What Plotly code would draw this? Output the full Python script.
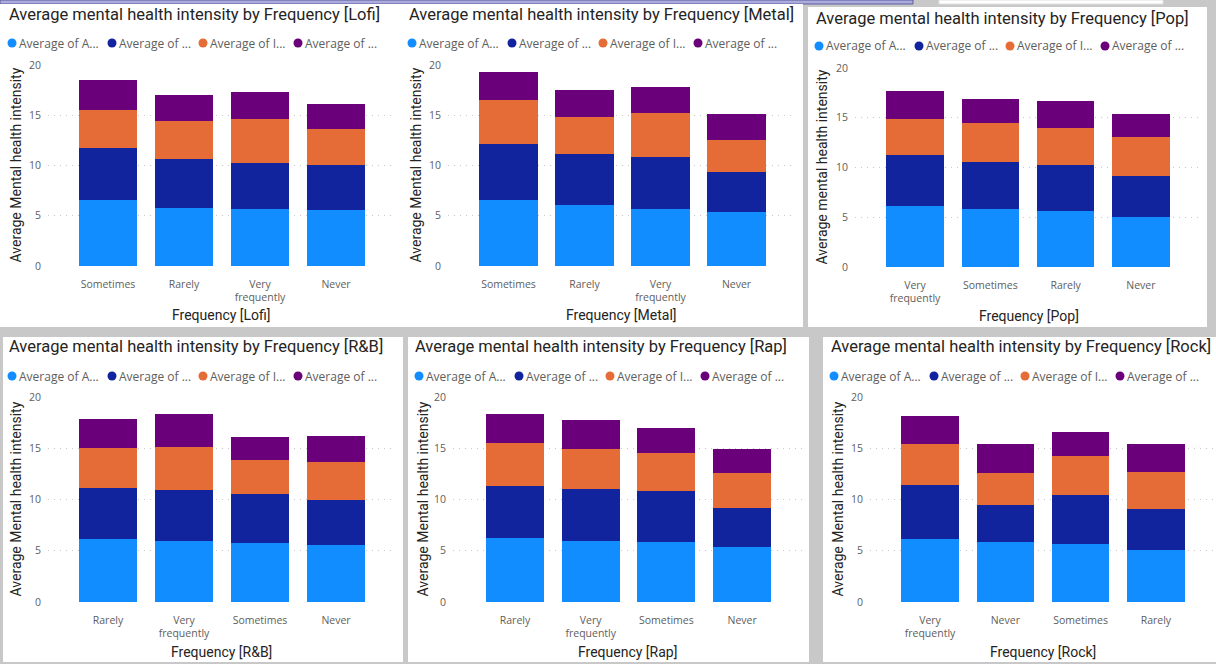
import plotly.graph_objects as go

# ---------------- data ----------------
series_names = ["Average of A...", "Average of ...", "Average of I...", "Average of ..."]
series_colors = ["#118DFF", "#12239E", "#E66C37", "#6B007B"]

lofi_categories = ["Sometimes", "Rarely", "Very frequently", "Never"]
lofi_anxiety = [6.53, 5.74, 5.67, 5.54]
lofi_depression = [5.18, 4.91, 4.58, 4.54]
lofi_insomnia = [3.78, 3.78, 4.34, 3.55]
lofi_ocd = [3.05, 2.55, 2.72, 2.49]

metal_categories = ["Sometimes", "Rarely", "Very frequently", "Never"]
metal_anxiety = [6.57, 6.07, 5.67, 5.41]
metal_depression = [5.54, 5.11, 5.18, 3.91]
metal_insomnia = [4.44, 3.65, 4.34, 3.22]
metal_ocd = [2.75, 2.72, 2.59, 2.55]

pop_categories = ["Very frequently", "Sometimes", "Rarely", "Never"]
pop_anxiety = [6.11, 5.87, 5.60, 5.03]
pop_depression = [5.10, 4.70, 4.63, 4.16]
pop_insomnia = [3.66, 3.86, 3.76, 3.90]
pop_ocd = [2.78, 2.48, 2.69, 2.28]

rnb_categories = ["Rarely", "Very frequently", "Sometimes", "Never"]
rnb_anxiety = [6.10, 5.91, 5.74, 5.58]
rnb_depression = [5.03, 4.99, 4.80, 4.37]
rnb_insomnia = [3.85, 4.21, 3.36, 3.75]
rnb_ocd = [2.87, 3.19, 2.18, 2.45]

rap_categories = ["Rarely", "Very frequently", "Sometimes", "Never"]
rap_anxiety = [6.20, 5.94, 5.81, 5.32]
rap_depression = [5.15, 5.09, 5.02, 3.85]
rap_insomnia = [4.12, 3.88, 3.69, 3.39]
rap_ocd = [2.87, 2.84, 2.45, 2.35]

rock_categories = ["Very frequently", "Never", "Sometimes", "Rarely"]
rock_anxiety = [6.13, 5.84, 5.64, 5.09]
rock_depression = [5.29, 3.65, 4.83, 3.98]
rock_insomnia = [3.95, 3.14, 3.76, 3.59]
rock_ocd = [2.74, 2.77, 2.34, 2.74]

y_tick_values = [0, 5, 10, 15, 20]

genres = [
    ("Lofi", lofi_categories, [lofi_anxiety, lofi_depression, lofi_insomnia, lofi_ocd], "Average Mental health intensity"),
    ("Metal", metal_categories, [metal_anxiety, metal_depression, metal_insomnia, metal_ocd], "Average Mental health intensity"),
    ("Pop", pop_categories, [pop_anxiety, pop_depression, pop_insomnia, pop_ocd], "Average mental health intensity"),
    ("R&B", rnb_categories, [rnb_anxiety, rnb_depression, rnb_insomnia, rnb_ocd], "Average Mental health intensity"),
    ("Rap", rap_categories, [rap_anxiety, rap_depression, rap_insomnia, rap_ocd], "Average Mental health intensity"),
    ("Rock", rock_categories, [rock_anxiety, rock_depression, rock_insomnia, rock_ocd], "Average Mental health intensity"),
]

# ---------------- layout geometry (pixels) ----------------
W, H = 1216, 664
def X(px):
    return px / W
def Y(py):
    return 1 - py / H

# panel rect, plot rect (x0,x1,ytop,ybot), first category centre, category step,
# title position, legend x offset, legend y, axis-title positions
panels = [
    dict(rect=(0, 4, 403, 327), plot=(48, 395, 65, 266), c0=108, step=76, title=(7, 15), loff=0, ly=43, xty=315, ytx=15),
    dict(rect=(403, 4, 803, 327), plot=(448, 795, 65, 266), c0=508.5, step=76, title=(407, 15), loff=400, ly=43, xty=315, ytx=415),
    dict(rect=(808, 7, 1207, 327), plot=(855, 1202, 68, 267), c0=915, step=75.3, title=(814, 18), loff=807, ly=46, xty=316, ytx=822),
    dict(rect=(3, 337, 403, 662), plot=(48, 395, 397, 602), c0=108, step=76, title=(7, 347), loff=0, ly=376, xty=652, ytx=15),
    dict(rect=(408, 337, 809, 662), plot=(453, 802, 397, 602), c0=515, step=75.7, title=(413, 347), loff=407, ly=376, xty=652, ytx=422),
    dict(rect=(823, 337, 1216, 662), plot=(870, 1216, 397, 602), c0=930, step=75.3, title=(829, 347), loff=822, ly=376, xty=652, ytx=837),
]
legend_circle_x = [12, 112, 203, 298]

TITLE_FONT = "Roboto"
BODY_FONT = "Open Sans"

fig = go.Figure()
shapes = []
annotations = []
layout_axes = {}

# top decorations of the report canvas
shapes.append(dict(type="rect", xref="paper", yref="paper", x0=X(0), x1=X(913), y0=Y(4), y1=Y(0),
                   fillcolor="#ABABDC", line=dict(color="#5A5A9E", width=1), layer="below"))
shapes.append(dict(type="rect", xref="paper", yref="paper", x0=X(939), x1=X(1163), y0=Y(4), y1=Y(0),
                   fillcolor="#FFFFFF", line=dict(color="#E0E0E0", width=1), layer="below"))

for i, (genre, cats, series, ytitle) in enumerate(genres):
    p = panels[i]
    n = "" if i == 0 else str(i + 1)
    xa, ya = "x" + n, "y" + n
    rx0, ry0, rx1, ry1 = p["rect"]
    shapes.append(dict(type="rect", xref="paper", yref="paper", x0=X(rx0), x1=X(rx1), y0=Y(ry1), y1=Y(ry0),
                       fillcolor="#FFFFFF", line=dict(width=0), layer="below"))
    for s, vals in enumerate(series):
        fig.add_trace(go.Bar(x=cats, y=vals, name=series_names[s], marker=dict(color=series_colors[s], line=dict(width=0)),
                             xaxis=xa, yaxis=ya, showlegend=False))
    px0, px1, pyt, pyb = p["plot"]
    layout_axes["xaxis" + n] = dict(
        domain=[X(px0), X(px1)], anchor=ya, type="category",
        range=[-(p["c0"] - px0) / p["step"], (px1 - p["c0"]) / p["step"]],
        tickvals=cats, ticktext=[c.replace(" ", "<br>") for c in cats],
        tickfont=dict(family=BODY_FONT, size=10.5, color="#605E5C"),
        ticks="", showgrid=False, zeroline=False, showline=False, ticklabelstandoff=10,
        automargin=False, fixedrange=True,
    )
    layout_axes["yaxis" + n] = dict(
        domain=[Y(pyb), Y(pyt)], anchor=xa, range=[0, 20], tickvals=y_tick_values,
        tickfont=dict(family=BODY_FONT, size=10.5, color="#605E5C"),
        showgrid=True, gridcolor="#C8C8C8", gridwidth=1, griddash="1px,5px",
        zeroline=False, showline=False, ticks="", ticklabelstandoff=6,
        automargin=False, fixedrange=True,
    )
    # chart title
    tx, ty = p["title"]
    annotations.append(dict(text="Average mental health intensity by Frequency [%s]" % genre, xref="paper", yref="paper",
                            x=X(tx), y=Y(ty), xanchor="left", yanchor="middle", showarrow=False,
                            font=dict(family=TITLE_FONT, size=16.5, color="#252423")))
    # axis titles
    annotations.append(dict(text="Frequency [%s]" % genre, xref="paper", yref="paper",
                            x=X((px0 + px1) / 2), y=Y(p["xty"]), xanchor="center", yanchor="middle", showarrow=False,
                            font=dict(family=TITLE_FONT, size=14, color="#252423")))
    annotations.append(dict(text=ytitle, xref="paper", yref="paper", textangle=-90,
                            x=X(p["ytx"]), y=Y((pyt + pyb) / 2), xanchor="center", yanchor="middle", showarrow=False,
                            font=dict(family=TITLE_FONT, size=14, color="#252423")))
    # legend row (Power BI style: circle + label)
    for s in range(4):
        cx = p["loff"] + legend_circle_x[s]
        shapes.append(dict(type="circle", xref="paper", yref="paper", xsizemode="pixel", ysizemode="pixel",
                           xanchor=X(cx), yanchor=Y(p["ly"]), x0=-4.5, x1=4.5, y0=-4.5, y1=4.5,
                           fillcolor=series_colors[s], line=dict(width=0)))
        annotations.append(dict(text=series_names[s], xref="paper", yref="paper", x=X(cx + 5), y=Y(p["ly"]),
                                xanchor="left", yanchor="middle", showarrow=False,
                                font=dict(family=BODY_FONT, size=12, color="#605E5C")))

fig.update_layout(
    width=W, height=H, margin=dict(l=0, r=0, t=0, b=0),
    paper_bgcolor="#C8C8C8", plot_bgcolor="rgba(0,0,0,0)",
    barmode="stack", bargap=0.235, showlegend=False,
    shapes=shapes, annotations=annotations,
    font=dict(family=BODY_FONT),
    **layout_axes,
)

fig.write_html("out.html", config={"displayModeBar": False},
               post_script="document.body.style.margin='0px';")
